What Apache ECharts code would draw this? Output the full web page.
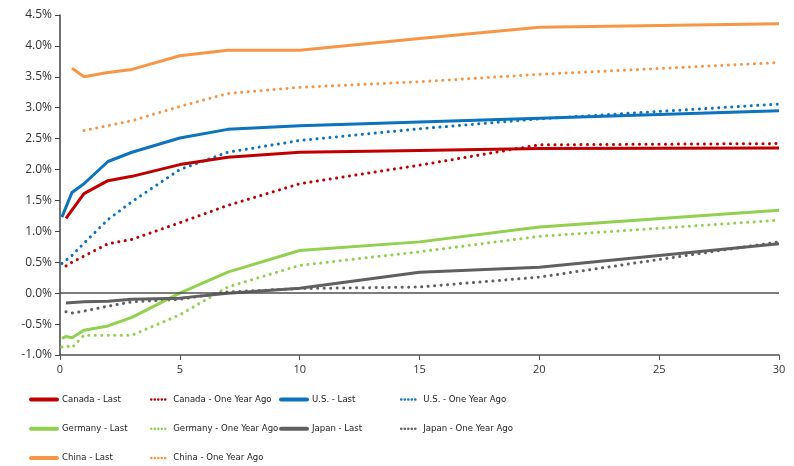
<!DOCTYPE html>
<html>
<head>
<meta charset="utf-8">
<script src="https://cdn.jsdelivr.net/npm/echarts@6/dist/echarts.min.js"></script>
<style>html,body{margin:0;padding:0;background:#fff}#c{width:794px;height:466px}</style>
</head>
<body>
<div id="c"></div>
<script>
const maturities = [0.08, 0.25, 0.5, 1, 2, 3, 5, 7, 10, 15, 20, 30];
const canadaLast  = [null, 1.21, null, 1.61, 1.82, 1.89, 2.08, 2.20, 2.28, 2.31, 2.34, 2.35];
const canadaPrev  = [null, 0.44, 0.50, 0.60, 0.80, 0.87, 1.14, 1.42, 1.77, 2.07, 2.40, 2.42];
const usLast      = [1.23, null, 1.63, 1.77, 2.13, 2.28, 2.51, 2.65, 2.71, 2.77, 2.83, 2.95];
const usPrev      = [0.48, null, 0.61, 0.81, 1.19, 1.48, 2.00, 2.28, 2.47, 2.66, 2.82, 3.06];
const germanyLast = [-0.73, -0.70, -0.72, -0.60, -0.53, -0.39, 0.00, 0.34, 0.69, 0.83, 1.07, 1.34];
const germanyPrev = [-0.87, -0.85, -0.88, -0.68, -0.68, -0.68, -0.35, 0.10, 0.45, 0.67, 0.92, 1.18];
const japanLast   = [null, -0.16, null, -0.14, -0.13, -0.10, -0.08, 0.00, 0.08, 0.34, 0.42, 0.80];
const japanPrev   = [null, -0.30, -0.32, -0.29, -0.21, -0.14, -0.10, 0.02, 0.075, 0.10, 0.26, 0.83];
const chinaLast   = [null, null, 3.64, 3.50, 3.57, 3.62, 3.84, 3.93, 3.93, 4.12, 4.30, 4.36];
const chinaPrev   = [null, null, null, 2.63, 2.71, 2.79, 3.02, 3.23, 3.33, 3.42, 3.54, 3.73];
const xTicks = [0, 5, 10, 15, 20, 25, 30];
const yTicks = [-1.0, -0.5, 0.0, 0.5, 1.0, 1.5, 2.0, 2.5, 3.0, 3.5, 4.0, 4.5];

const names = {
  cL: 'Canada - Last', cP: 'Canada - One Year Ago',
  uL: 'U.S. - Last', uP: 'U.S. - One Year Ago',
  gL: 'Germany - Last', gP: 'Germany - One Year Ago',
  jL: 'Japan - Last', jP: 'Japan - One Year Ago',
  hL: 'China - Last', hP: 'China - One Year Ago'
};
const colors = { c: '#C00000', u: '#0C73BE', g: '#92D050', j: '#606060', h: '#F79646' };

function pairs(vals) {
  return maturities.map((m, i) => [m, vals[i]]).filter(p => p[1] !== null);
}
function mk(name, vals, color, dotted) {
  return {
    name: name, type: 'line', data: pairs(vals), symbol: 'none', showSymbol: false,
    animation: false,
    lineStyle: dotted
      ? { color: color, width: 3, type: [0.1, 6.4], cap: 'round' }
      : { color: color, width: 3 },
    itemStyle: { color: color },
    z: dotted ? 2 : 3
  };
}
const series = [
  mk(names.cL, canadaLast, colors.c, false),
  mk(names.cP, canadaPrev, colors.c, true),
  mk(names.uL, usLast, colors.u, false),
  mk(names.uP, usPrev, colors.u, true),
  mk(names.gL, germanyLast, colors.g, false),
  mk(names.gP, germanyPrev, colors.g, true),
  mk(names.jL, japanLast, colors.j, false),
  mk(names.jP, japanPrev, colors.j, true),
  mk(names.hL, chinaLast, colors.h, false),
  mk(names.hP, chinaPrev, colors.h, true)
];
series[0].markLine = {
  silent: true, symbol: 'none', animation: false,
  label: { show: false },
  lineStyle: { color: '#505050', width: 1.5, type: 'solid' },
  data: [{ yAxis: 0 }]
};

const legendFont = {
  fontFamily: "'Liberation Sans Narrow', 'DejaVu Sans Condensed', 'Roboto', sans-serif",
  fontSize: 9.5, color: '#222'
};
function legend(left, data, dotted) {
  return {
    orient: 'vertical', left: left, top: 394, padding: 0,
    itemWidth: dotted ? 17 : 26, itemHeight: 14, itemGap: 18,
    itemStyle: { color: 'transparent', borderColor: 'transparent', borderWidth: 0, opacity: 0 },
    lineStyle: dotted
      ? { width: 2.5, type: [0.1, 3.4], cap: 'round' }
      : { width: 4, type: 'solid', cap: 'round' },
    textStyle: legendFont, selectedMode: false, data: data
  };
}

const chart = echarts.init(document.getElementById('c'), null, { renderer: 'canvas' });
chart.setOption({
  animation: false,
  backgroundColor: '#fff',
  grid: { left: 60, right: 15, top: 15, bottom: 111, containLabel: false },
  legend: [
    legend(29, [names.cL, names.gL, names.hL], false),
    legend(150, [names.cP, names.gP, names.hP], true),
    legend(279, [names.uL, names.jL], false),
    legend(400, [names.uP, names.jP], true)
  ],
  xAxis: {
    type: 'value', min: xTicks[0], max: xTicks[xTicks.length - 1], interval: 5,
    axisLine: { onZero: false, lineStyle: { color: '#505050', width: 1.5 } },
    axisTick: { show: true, length: 5, lineStyle: { color: '#505050' } },
    axisLabel: { color: '#333', fontFamily: 'Open Sans', fontSize: 11, margin: 9 },
    splitLine: { show: false }
  },
  yAxis: {
    type: 'value', min: yTicks[0], max: yTicks[yTicks.length - 1], interval: 0.5,
    axisLine: { show: true, lineStyle: { color: '#404040', width: 1.5 } },
    axisTick: { show: true, length: 5, lineStyle: { color: '#404040' } },
    axisLabel: {
      color: '#333', fontFamily: 'Open Sans', fontSize: 12, margin: 8,
      formatter: v => v.toFixed(1) + '%'
    },
    splitLine: { show: false }
  },
  series: series
});
</script>
</body>
</html>
